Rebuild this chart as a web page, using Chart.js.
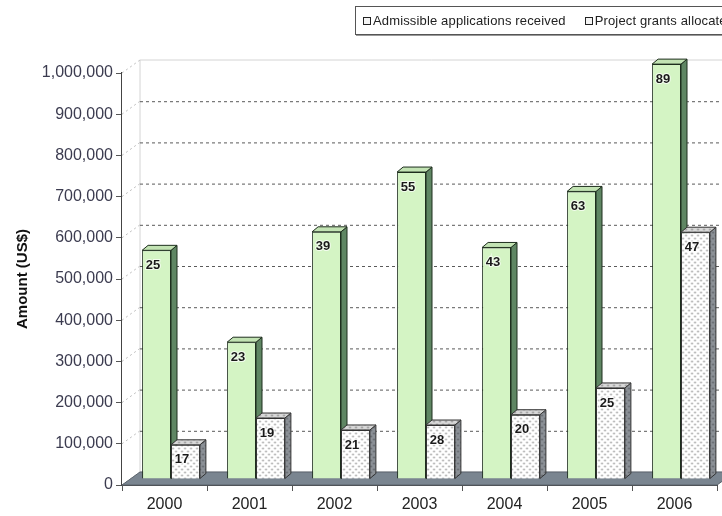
<!DOCTYPE html>
<html>
<head>
<meta charset="utf-8">
<script src="https://cdn.jsdelivr.net/npm/chart.js@4/dist/chart.umd.min.js"></script>
<style>
  html, body { margin: 0; padding: 0; background: #fff; }
  #wrap { position: relative; width: 722px; height: 516px; overflow: hidden; }
  #legend {
    position: absolute; left: 355px; top: 6px; width: 380px; height: 27px;
    border: 1px solid #555; box-shadow: 1px 1px 0 #999;
    font: 13px "Liberation Sans", Arial, sans-serif; letter-spacing: 0.15px; color: #222;
    display: flex; align-items: center; white-space: nowrap; background: #fff;
  }
  #legend span.item { display: inline-flex; align-items: center; margin-left: 7px; margin-right: 12px; }
  #legend i { display: inline-block; width: 6px; height: 6px; border: 1px solid #222; background: #f4f4f4; margin-right: 2px; }
</style>
</head>
<body>
<div id="wrap">
  <canvas id="chart" width="722" height="516"></canvas>
  <div id="legend"></div>
</div>
<script>
const years = ['2000', '2001', '2002', '2003', '2004', '2005', '2006'];
const seriesNames = ['Admissible applications received', 'Project grants allocated'];
const applicationsAmount = [555000, 332000, 600000, 745000, 562000, 698000, 1007000];
const grantsAmount = [83000, 148000, 119000, 131000, 156000, 221000, 599000];
const applicationsCount = [25, 23, 39, 55, 43, 63, 89];
const grantsCount = [17, 19, 21, 28, 20, 25, 47];
const yTicks = [0, 100000, 200000, 300000, 400000, 500000, 600000, 700000, 800000, 900000, 1000000];

// fake 3D: back wall offset and bar depth
const WALL_DX = 18, WALL_DY = -13;
const BAR_SHIFT_X = 6.5, BAR_SHIFT_Y = -6;
const DEPTH_DX = 6, DEPTH_DY = 5;

function dotPattern(bg, dot) {
  const c = document.createElement('canvas');
  c.width = 6; c.height = 6;
  const g = c.getContext('2d');
  g.fillStyle = bg;
  g.fillRect(0, 0, 6, 6);
  g.fillStyle = dot;
  for (const [x, y] of [[1.5, 1.5], [4.5, 4.5]]) {
    g.beginPath();
    g.arc(x, y, 0.9, 0, Math.PI * 2);
    g.fill();
  }
  return g.createPattern(c, 'repeat');
}

const ctx0 = document.getElementById('chart').getContext('2d');
const styles = [
  { front: '#d4f4c4', side: '#5f8663', top: '#c2e3b3', edge: '#1e2e1e' },
  { front: dotPattern('#ffffff', '#9a9a9a'), side: dotPattern('#8b9096', '#5c6066'), top: dotPattern('#d8d8d8', '#8a8a8a'), edge: '#333333' }
];
const counts = [applicationsCount, grantsCount];

// legend
const legend = document.getElementById('legend');
seriesNames.forEach(name => {
  const s = document.createElement('span');
  s.className = 'item';
  s.innerHTML = '<i></i>' + name;
  legend.appendChild(s);
});

function poly(ctx, pts, fill, stroke) {
  ctx.beginPath();
  ctx.moveTo(pts[0][0], pts[0][1]);
  for (let i = 1; i < pts.length; i++) ctx.lineTo(pts[i][0], pts[i][1]);
  ctx.closePath();
  if (fill) { ctx.fillStyle = fill; ctx.fill(); }
  if (stroke) { ctx.strokeStyle = stroke; ctx.lineWidth = 1; ctx.stroke(); }
}

// side + top faces and the count label of one bar
function drawFaces(ctx, bar, st, label) {
  const { x, y, base, width } = bar.getProps(['x', 'y', 'base', 'width'], true);
  const l = x - width / 2, r = x + width / 2;
  poly(ctx, [[r, y], [r + DEPTH_DX, y - DEPTH_DY], [r + DEPTH_DX, base - DEPTH_DY], [r, base]], st.side, st.edge);
  poly(ctx, [[l, y], [l + DEPTH_DX, y - DEPTH_DY], [r + DEPTH_DX, y - DEPTH_DY], [r, y]], st.top, st.edge);
  ctx.font = 'bold 13px "Liberation Sans", Arial, sans-serif';
  ctx.textAlign = 'center';
  ctx.textBaseline = 'middle';
  ctx.lineWidth = 2;
  ctx.strokeStyle = 'rgba(255,255,255,0.7)';
  ctx.strokeText(String(label), l + 11, y + 15);
  ctx.fillStyle = '#1a1a1a';
  ctx.fillText(String(label), l + 11, y + 15);
}

const walls = {
  id: 'walls',
  beforeDatasetsDraw(chart) {
    const { ctx, chartArea: a, scales: { y } } = chart;
    const yTop = y.getPixelForValue(1000000), yBot = y.getPixelForValue(0);
    ctx.save();
    // side wall and back wall
    poly(ctx, [[a.left, yTop], [a.left + WALL_DX, yTop + WALL_DY], [a.left + WALL_DX, yBot + WALL_DY], [a.left, yBot]], '#ffffff', null);
    poly(ctx, [[a.left + WALL_DX, yTop + WALL_DY], [a.right + WALL_DX, yTop + WALL_DY], [a.right + WALL_DX, yBot + WALL_DY], [a.left + WALL_DX, yBot + WALL_DY]], '#ffffff', '#d4d4d4');
    ctx.lineWidth = 1;
    for (const v of yTicks) {
      const py = y.getPixelForValue(v);
      ctx.setLineDash([2, 3]);
      ctx.strokeStyle = '#bdbdbd';
      ctx.beginPath();
      ctx.moveTo(a.left, py);
      ctx.lineTo(a.left + WALL_DX, py + WALL_DY);
      ctx.stroke();
      if (v > 0 && v < 1000000) {
        ctx.setLineDash([3, 3]);
        ctx.strokeStyle = '#5a5a5a';
        ctx.beginPath();
        ctx.moveTo(a.left + WALL_DX, py + WALL_DY + 0.5);
        ctx.lineTo(a.right + WALL_DX, py + WALL_DY + 0.5);
        ctx.stroke();
      }
    }
    ctx.setLineDash([]);
    // floor
    poly(ctx, [[a.left, yBot], [a.right, yBot], [a.right + WALL_DX, yBot + WALL_DY], [a.left + WALL_DX, yBot + WALL_DY]], '#7a8590', '#5a636c');
    ctx.translate(BAR_SHIFT_X, BAR_SHIFT_Y);
  },
  afterDatasetDraw(chart, args) {
    // datasets are painted last-to-first, so the green one comes last;
    // paint its depth faces, then repaint the dotted bars in front of them
    if (args.index !== 0) return;
    const { ctx } = chart;
    args.meta.data.forEach((bar, k) => drawFaces(ctx, bar, styles[0], counts[0][k]));
    chart.getDatasetMeta(1).data.forEach((bar, k) => {
      bar.draw(ctx);
      drawFaces(ctx, bar, styles[1], counts[1][k]);
    });
  },
  afterDatasetsDraw(chart) {
    chart.ctx.restore();
  }
};

new Chart(ctx0, {
  type: 'bar',
  data: {
    labels: years,
    datasets: [
      { label: seriesNames[0], data: applicationsAmount, backgroundColor: styles[0].front, borderColor: styles[0].edge, borderWidth: 1, clip: false },
      { label: seriesNames[1], data: grantsAmount, backgroundColor: styles[1].front, borderColor: styles[1].edge, borderWidth: 1, clip: false }
    ]
  },
  options: {
    responsive: false,
    animation: false,
    devicePixelRatio: 1,
    categoryPercentage: 0.68,
    barPercentage: 1,
    layout: { padding: { top: 73, right: 5, left: 0, bottom: 0 } },
    plugins: { legend: { display: false }, tooltip: { enabled: false } },
    scales: {
      x: {
        afterFit: s => { s.height = 31; },
        grid: { drawOnChartArea: false, tickLength: 6, color: '#555' },
        border: { color: '#444', width: 1 },
        ticks: { color: '#222', padding: 4, font: { size: 16, family: '"Liberation Sans", Arial, sans-serif' } }
      },
      y: {
        min: 0, max: 1000000,
        afterFit: s => { s.width = 122; },
        afterBuildTicks: s => { s.ticks = yTicks.map(v => ({ value: v })); },
        grid: { drawOnChartArea: false, tickLength: 6, color: '#555' },
        border: { color: '#444', width: 1.5 },
        ticks: {
          color: '#3b3b4f', padding: 3,
          font: { size: 16, family: '"Liberation Sans", Arial, sans-serif' },
          callback: v => v.toLocaleString('en-US')
        },
        title: {
          display: true, text: 'Amount (US$)', color: '#111',
          padding: { top: 14, bottom: 0 },
          font: { size: 15, weight: 'bold', family: '"Liberation Sans", Arial, sans-serif' }
        }
      }
    }
  },
  plugins: [walls]
});
</script>
</body>
</html>
